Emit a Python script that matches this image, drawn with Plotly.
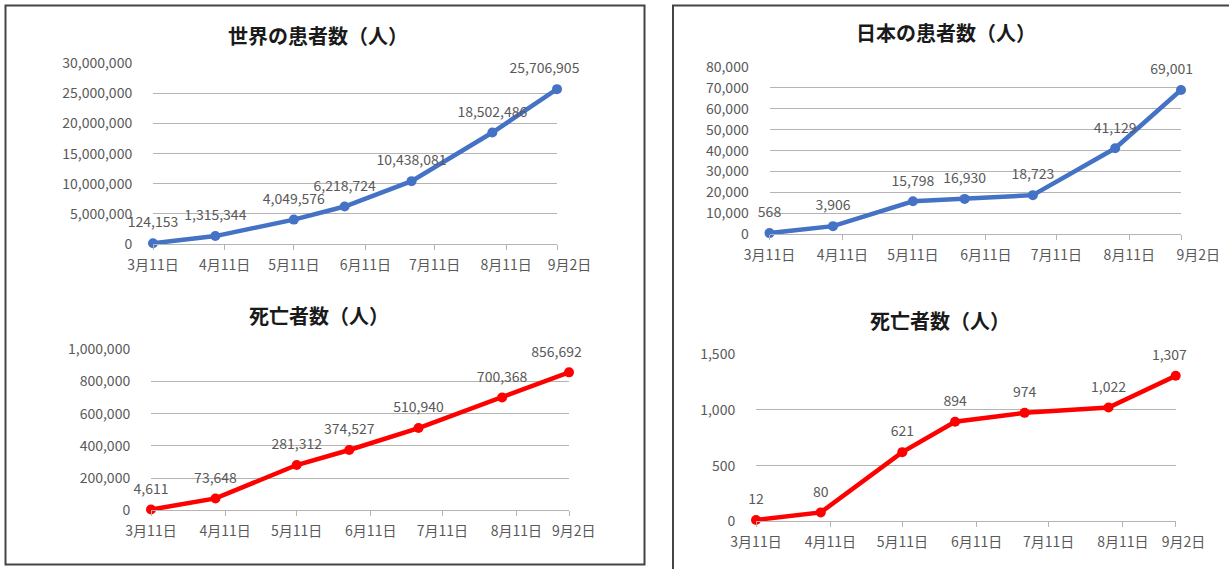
import plotly.graph_objects as go

W, H = 1229, 569

dates = ['2020-03-11', '2020-04-07', '2020-05-11', '2020-06-02', '2020-07-01', '2020-08-05', '2020-09-02']
world_cases = [124153, 1315344, 4049576, 6218724, 10438081, 18502486, 25706905]
world_deaths = [4611, 73648, 281312, 374527, 510940, 700368, 856692]
japan_cases = [568, 3906, 15798, 16930, 18723, 41129, 69001]
japan_deaths = [12, 80, 621, 894, 974, 1022, 1307]

tick_dates = ['2020-03-11', '2020-04-11', '2020-05-11', '2020-06-11', '2020-07-11', '2020-08-11', '2020-09-02']
tick_labels = ['3月11日', '4月11日', '5月11日', '6月11日', '7月11日', '8月11日', '9月2日']

titles = ['世界の患者数（人）', '死亡者数（人）', '日本の患者数（人）', '死亡者数（人）']

BLUE = '#4472C4'
RED = '#FF0000'
TXT = '#595959'
GRID = '#B4B4B4'
FONT = 'Noto Sans CJK JP'
NB = '\u00a0'

# panels: (values, color, x px range, y px (zero, top), y max, dtick, title pos,
#          pad for last tick label, pad for last data label)
panels = [
    (world_cases, BLUE, (153, 557), (244, 63.3), 30e6, 5e6, (318, 35), 8, 8),
    (world_deaths, RED, (151, 569), (510.3, 349.3), 1e6, 2e5, (319, 315), 3, 8),
    (japan_cases, BLUE, (769.5, 1181), (234.3, 67), 80000, 10000, (946, 32), 11, 6),
    (japan_deaths, RED, (756, 1175.7), (521.3, 354.3), 1500, 500, (940, 320), 5, 4),
]

fig = go.Figure()
layout = dict(
    width=W, height=H, margin=dict(l=0, r=0, t=0, b=0, autoexpand=False),
    paper_bgcolor='white', plot_bgcolor='white', showlegend=False,
    font=dict(family=FONT, color=TXT, size=14),
)
annotations = []
for i, (vals, col, xr, yr, ymax, dt, tp, tpad, lpad) in enumerate(panels):
    n = '' if i == 0 else str(i + 1)
    xa, ya = 'x' + n, 'y' + n
    labels = [f'{v:,}' for v in vals]
    labels[-1] = labels[-1] + NB * lpad
    ticktext = tick_labels[:-1] + [NB * tpad + tick_labels[-1]]
    fig.add_trace(go.Scatter(
        x=dates, y=vals, xaxis=xa, yaxis=ya, mode='lines+markers',
        line=dict(color=col, width=4.5), marker=dict(color=col, size=10),
        cliponaxis=False, hoverinfo='skip'))
    fig.add_trace(go.Scatter(
        x=dates, y=vals, xaxis=xa, yaxis=ya, mode='markers+text',
        text=labels, textposition='top center',
        textfont=dict(family=FONT, size=14, color=TXT),
        marker=dict(color='rgba(0,0,0,0)', size=18),
        cliponaxis=False, hoverinfo='skip'))
    layout['xaxis' + n] = dict(
        domain=[xr[0] / W, xr[1] / W], anchor=ya, type='date',
        range=['2020-03-11', '2020-09-02'],
        tickvals=tick_dates, ticktext=ticktext, tickangle=0,
        automargin=False,
        showgrid=False, showline=True, linecolor=GRID, linewidth=1,
        ticks='outside', ticklen=5, tickcolor=GRID,
        tickfont=dict(family=FONT, size=14, color=TXT),
        ticklabelstandoff=3, zeroline=False, fixedrange=True)
    layout['yaxis' + n] = dict(
        domain=[1 - yr[0] / H, 1 - yr[1] / H], anchor=xa,
        range=[0, ymax], dtick=dt, tick0=0, tickformat=',d',
        automargin=False,
        showgrid=True, gridcolor=GRID, gridwidth=1, zeroline=False,
        showline=False, ticks='outside', ticklen=17, tickcolor='rgba(0,0,0,0)',
        tickfont=dict(family=FONT, size=14, color=TXT), fixedrange=True)
    annotations.append(dict(
        text='<b>' + titles[i] + '</b>', x=tp[0] / W, y=1 - tp[1] / H,
        xref='paper', yref='paper', showarrow=False,
        xanchor='center', yanchor='middle',
        font=dict(family=FONT, size=20, color='#1a1a1a')))

layout['annotations'] = annotations
layout['shapes'] = [
    dict(type='rect', xref='paper', yref='paper',
         x0=5.5 / W, x1=644.5 / W, y0=1 - 564.5 / H, y1=1 - 5.5 / H,
         line=dict(color='#444444', width=2)),
    dict(type='rect', xref='paper', yref='paper',
         x0=673 / W, x1=1240 / W, y0=-0.05, y1=1 - 5.5 / H,
         line=dict(color='#444444', width=2)),
]
fig.update_layout(**layout)
fig.write_html('out.html')
